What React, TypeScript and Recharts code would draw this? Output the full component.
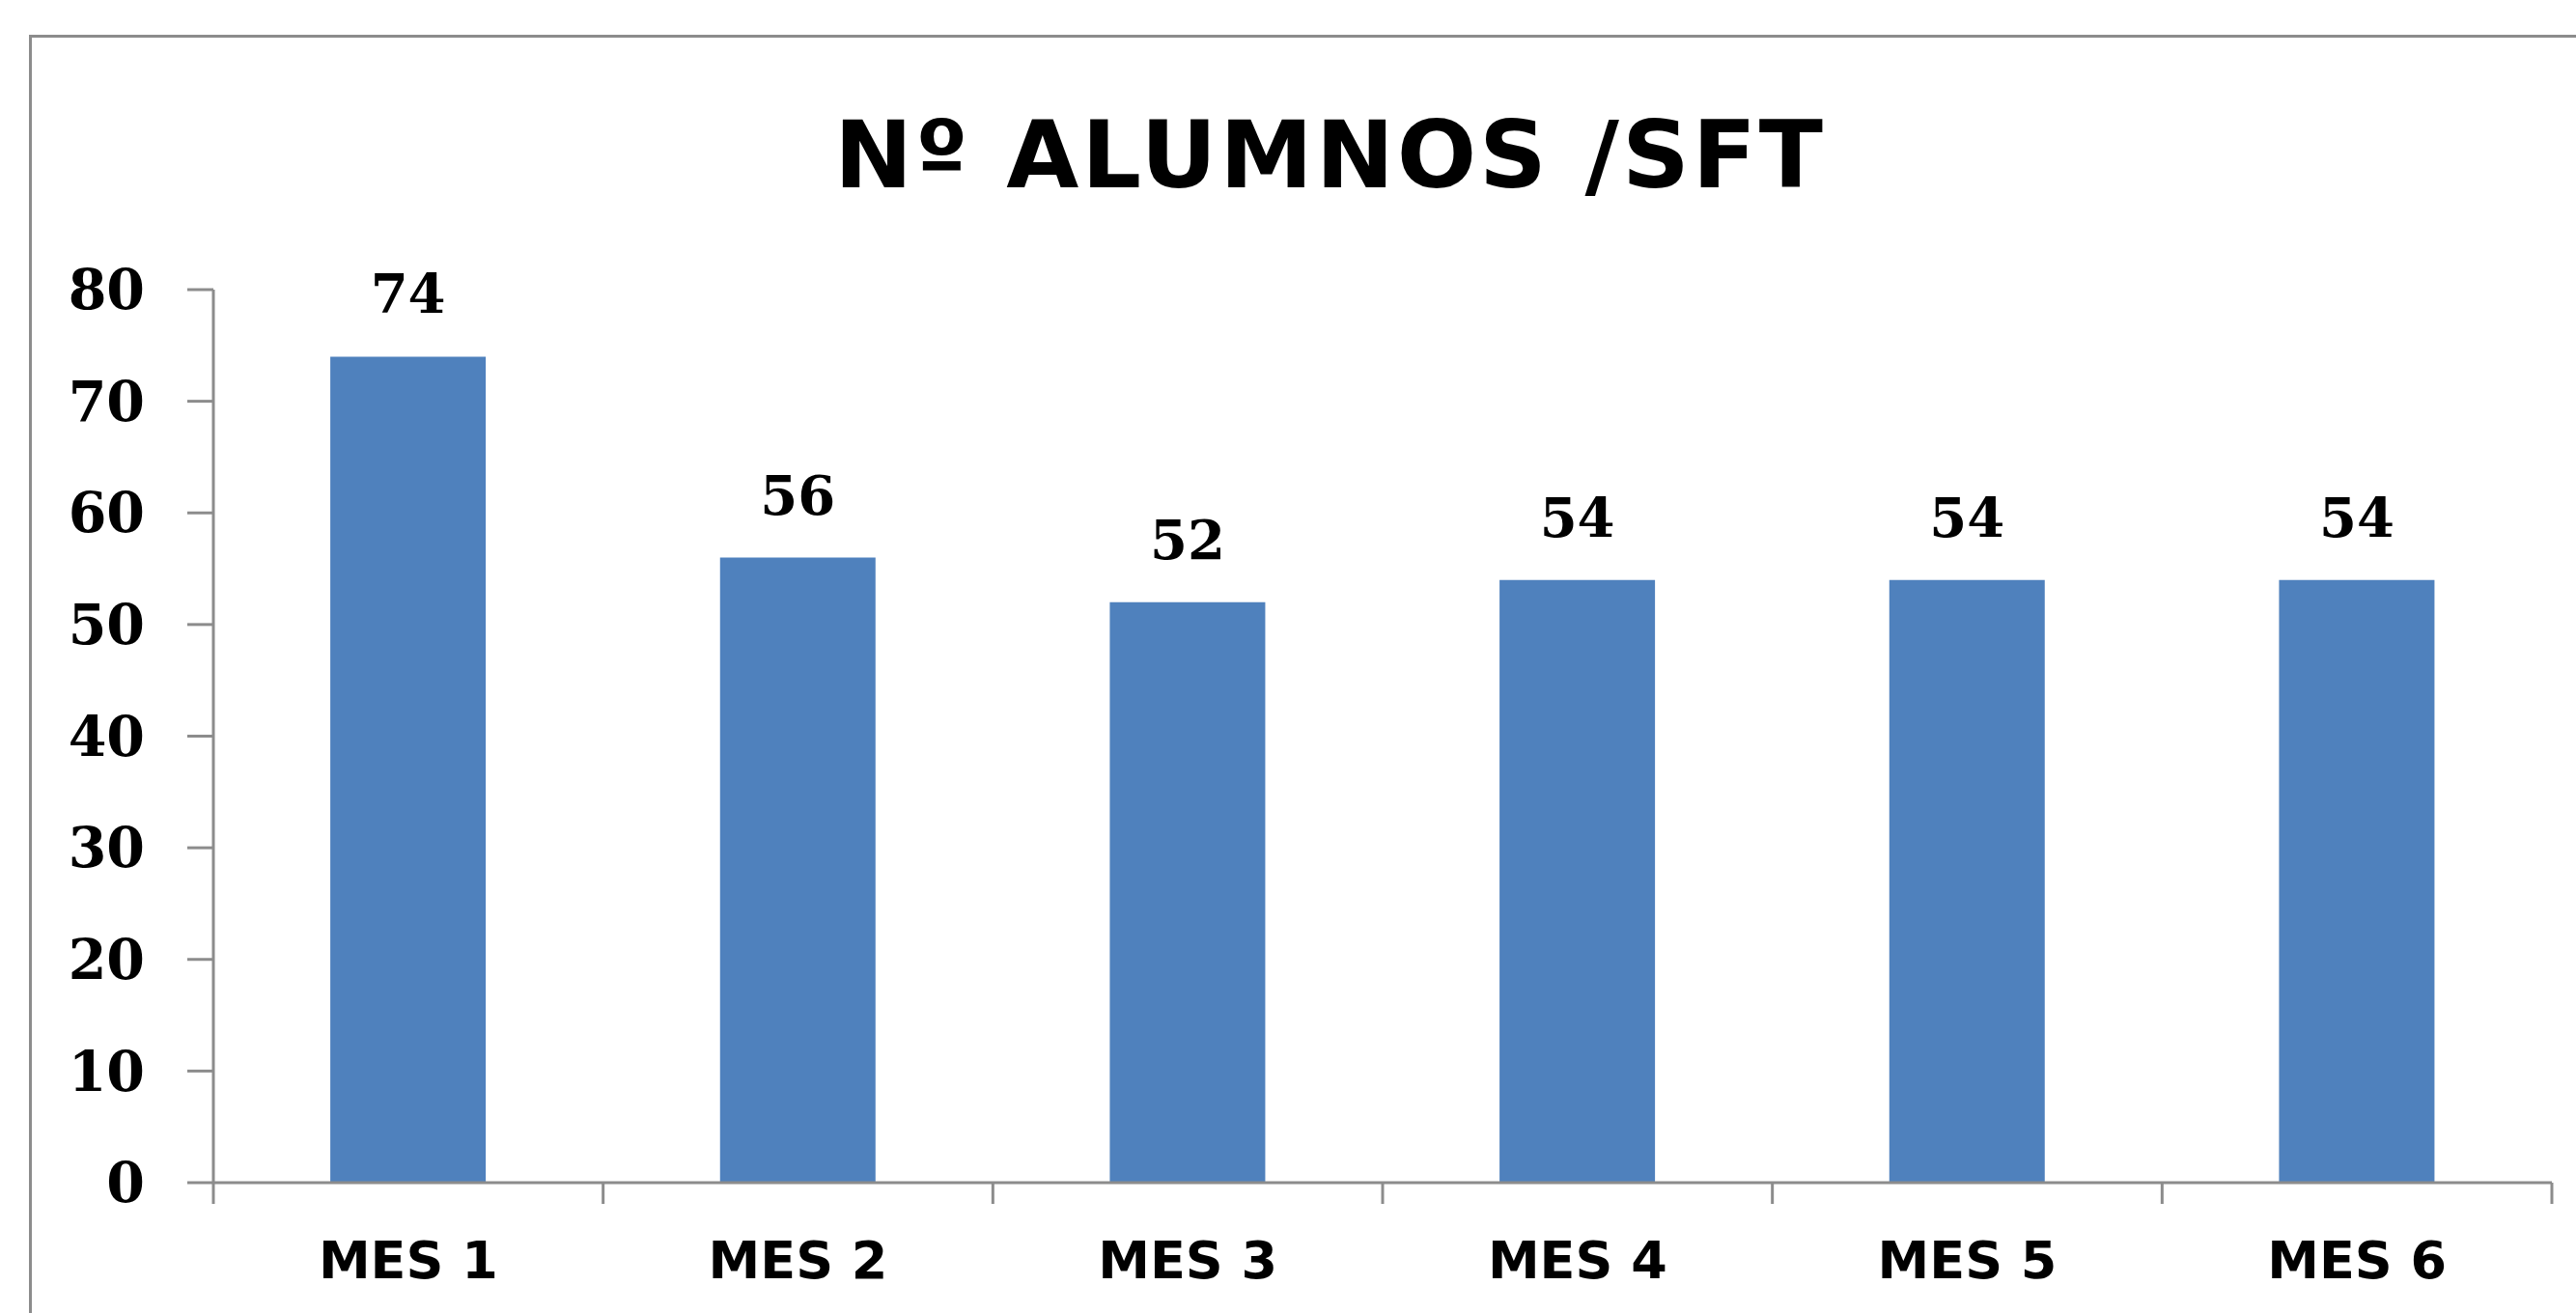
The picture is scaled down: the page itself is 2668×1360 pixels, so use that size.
import React from 'react';
import { BarChart, Bar, XAxis, YAxis, LabelList } from 'recharts';

const categories = ['MES 1', 'MES 2', 'MES 3', 'MES 4', 'MES 5', 'MES 6'];
const alumnos = [74, 56, 52, 54, 54, 54];
const yTicks = [0, 10, 20, 30, 40, 50, 60, 70, 80];
const title = 'Nº ALUMNOS /SFT';

const data = categories.map((mes, i) => ({ mes, alumnos: alumnos[i] }));

const W = 2668;
const H = 1360;
const AXIS = '#8c8c8c';
const BAR = '#4F81BD';
const LABEL_GAP = 61;
const TICK_LEN = 22;

const CategoryTick = (props: any) => {
  const { x, y, payload, index, visibleTicksCount } = props;
  const half = payload && typeof payload.offset === 'number' ? payload.offset : 0;
  const axisY = y - LABEL_GAP;
  const isLast = index === visibleTicksCount - 1;
  return (
    <g>
      <line x1={x - half} x2={x - half} y1={axisY} y2={axisY + TICK_LEN} stroke={AXIS} strokeWidth={3} />
      {isLast && (
        <line x1={x + half} x2={x + half} y1={axisY} y2={axisY + TICK_LEN} stroke={AXIS} strokeWidth={3} />
      )}
      <text
        x={x}
        y={y}
        dy="0.71em"
        textAnchor="middle"
        fontFamily="'DejaVu Sans', sans-serif"
        fontWeight={700}
        fontSize={54}
        fill="#000"
      >
        {payload.value}
      </text>
    </g>
  );
};

export default function App() {
  return (
    <div style={{ position: 'absolute', left: 0, top: 0, width: W, height: H, background: '#fff', overflow: 'hidden' }}>
      <div
        style={{
          position: 'absolute',
          left: 30,
          top: 36,
          width: W,
          height: H,
          borderTop: `3px solid ${AXIS}`,
          borderLeft: `3px solid ${AXIS}`,
          boxSizing: 'border-box',
        }}
      />
      <svg style={{ position: 'absolute', left: 0, top: 0 }} width={W} height={240}>
        <text
          x={1376}
          y={194}
          textAnchor="middle"
          fontFamily="'DejaVu Sans', sans-serif"
          fontWeight={700}
          fontSize={97}
          textLength={1024}
          lengthAdjust="spacing"
          fill="#000"
        >
          {title}
        </text>
      </svg>
      <div style={{ position: 'absolute', left: 0, top: 0 }}>
        <BarChart
          width={W}
          height={H}
          data={data}
          margin={{ top: 300, right: 25, left: 0, bottom: 0 }}
          barCategoryGap="30%"
        >
          <XAxis
            dataKey="mes"
            interval={0}
            axisLine={{ stroke: AXIS, strokeWidth: 3 }}
            tickLine={false}
            tickSize={0}
            tickMargin={LABEL_GAP}
            height={135}
            tick={<CategoryTick />}
          />
          <YAxis
            domain={[0, 80]}
            ticks={yTicks}
            interval={0}
            width={221}
            axisLine={{ stroke: AXIS, strokeWidth: 3 }}
            tickLine={{ stroke: AXIS, strokeWidth: 3 }}
            tickSize={27}
            tickMargin={44}
            tick={{ fontFamily: "'DejaVu Serif', serif", fontWeight: 700, fontSize: 57, fill: '#000' }}
          />
          <Bar dataKey="alumnos" fill={BAR} isAnimationActive={false}>
            <LabelList
              dataKey="alumnos"
              position="top"
              offset={45}
              style={{ fontFamily: "'DejaVu Serif', serif", fontWeight: 700, fontSize: 56, fill: '#000' }}
            />
          </Bar>
        </BarChart>
      </div>
    </div>
  );
}
